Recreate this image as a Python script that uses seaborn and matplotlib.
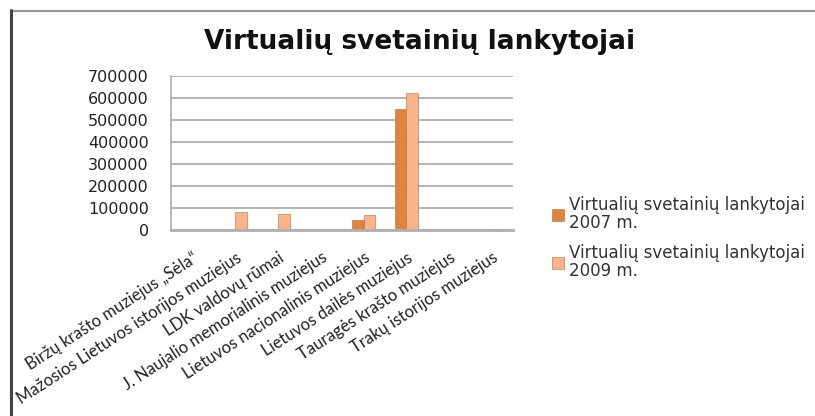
import matplotlib
matplotlib.use("Agg")
import matplotlib.pyplot as plt
import seaborn as sns
import pandas as pd

# ------------------------------
# Data
# ------------------------------

museums = [
    "Biržų krašto muziejus „Sėla“",
    "Mažosios Lietuvos istorijos muziejus",
    "LDK valdovų rūmai",
    "J. Naujalio memorialinis muziejus",
    "Lietuvos nacionalinis muziejus",
    "Lietuvos dailės muziejus",
    "Tauragės krašto muziejus",
    "Trakų istorijos muziejus",
]
visitors_2007 = [1200, 5000, 2000, 800, 45000, 552000, 900, 1500]
visitors_2009 = [1500, 80000, 72000, 900, 69000, 625000, 1000, 7000]

series_names = ["Virtualių svetainių lankytojai\n2007 m.",
                "Virtualių svetainių lankytojai\n2009 m."]
yticks = [0, 100000, 200000, 300000, 400000, 500000, 600000, 700000]

df = pd.DataFrame({
    "muziejus": museums * 2,
    "lankytojai": visitors_2007 + visitors_2009,
    "serija": [series_names[0]] * len(museums) + [series_names[1]] * len(museums),
})

# ------------------------------
# Plot
# ------------------------------

sns.set_theme(style="white")
plt.rcParams["font.family"] = ["DejaVu Sans"]

fig = plt.figure(figsize=(8.15, 4.16), dpi=100)
ax = fig.add_axes([0.21, 0.447, 0.42, 0.37])

palette = ["#DE843C", "#F9B48C"]
sns.barplot(data=df, x="muziejus", y="lankytojai", hue="serija",
            palette=palette, width=0.55, gap=0.0, saturation=1,
            edgecolor="#B06A35", linewidth=0.4, ax=ax)

ax.set_ylim(0, 700000)
ax.set_yticks(yticks)
ax.set_yticklabels([str(v) for v in yticks], fontsize=11.5, color="#222222")
ax.yaxis.grid(True, color="#A8A8A8", linewidth=1.2)
ax.set_axisbelow(True)
for s in ["top", "right"]:
    ax.spines[s].set_visible(False)
ax.spines["left"].set_color("#B0B0B0")
ax.spines["bottom"].set_color("#B0B0B0")
ax.spines["bottom"].set_linewidth(2)
ax.tick_params(axis="y", length=0, pad=16)
ax.tick_params(axis="x", length=0, pad=14)
ax.set_xlabel("")
ax.set_ylabel("")
ax.set_xticks(range(len(museums)))
ax.set_xticklabels(museums, rotation=33, ha="right", rotation_mode="anchor",
                   fontsize=12, family=["Lato", "DejaVu Sans"],
                   color="#222222")

fig.suptitle("Virtualių svetainių lankytojai", x=0.515, y=0.93,
             fontsize=19, fontweight="bold", color="#111111")

leg = ax.legend(loc="center left", bbox_to_anchor=(1.07, -0.05),
                frameon=False, fontsize=12, handlelength=0.7,
                handleheight=0.7, labelspacing=0.7, handletextpad=0.3)
for t in leg.get_texts():
    t.set_color("#333333")
    t.set_linespacing(1.0)

# frame lines of the screenshot (top and left only)
fig.add_artist(plt.Line2D([0.013, 1.0], [0.974, 0.974], transform=fig.transFigure,
                          color="#999999", linewidth=1.5))
fig.add_artist(plt.Line2D([0.014, 0.014], [0.0, 0.975], transform=fig.transFigure,
                          color="#444444", linewidth=2.2))

fig.savefig("out.png", dpi=100)
